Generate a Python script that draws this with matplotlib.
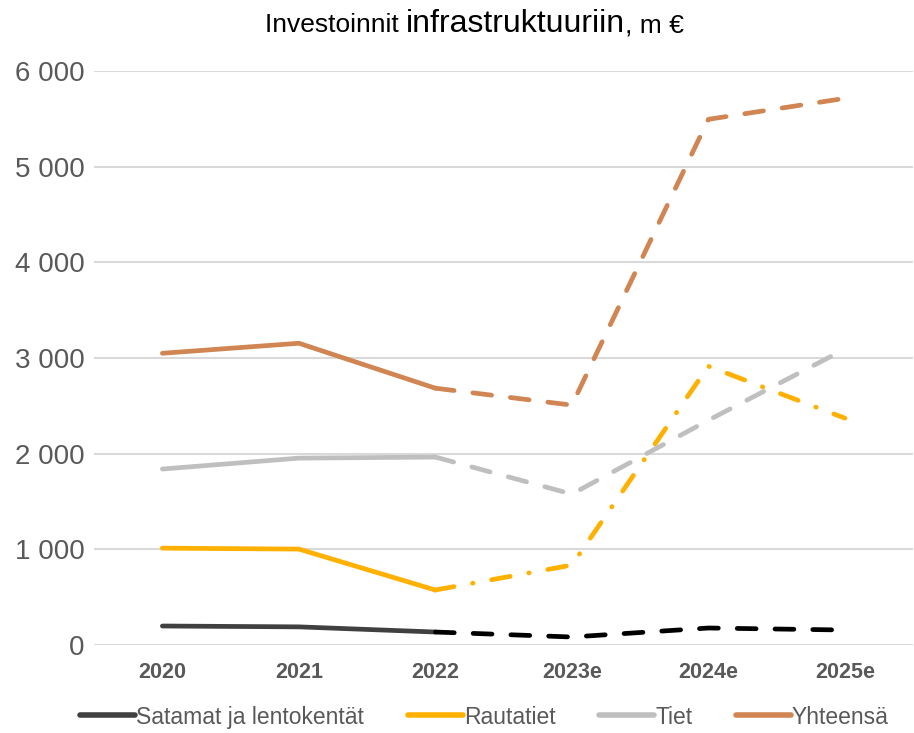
import matplotlib.pyplot as plt
from matplotlib.lines import Line2D
from matplotlib.ticker import FuncFormatter

plt.rcParams["font.family"] = ["Liberation Sans", "DejaVu Sans"]

years = ["2020", "2021", "2022", "2023e", "2024e", "2025e"]
satamat = [199, 190, 136, 84, 178, 157]
rautatiet = [1013, 1003, 575, 836, 2915, 2372]
tiet = [1840, 1954, 1965, 1578, 2350, 3093]
yhteensa = [3050, 3155, 2685, 2508, 5496, 5715]

series = [
    ("Satamat ja lentokentät", satamat, "#404040", "#000000", (0, (4, 4))),
    ("Rautatiet", rautatiet, "#FFB000", "#FFB000", (0, (4, 4, 0.1, 4))),
    ("Tiet", tiet, "#BFBFBF", "#BFBFBF", (0, (4, 4))),
    ("Yhteensä", yhteensa, "#D08552", "#D08552", (0, (4, 4))),
]

fig = plt.figure(figsize=(9.14, 7.33), dpi=100)
ax = fig.add_axes([0.103, 0.12, 0.896, 0.783])

x = list(range(len(years)))
handles = []
for name, vals, col, dcol, ls in series[::-1]:
    ax.plot(x[:3], vals[:3], color=col, lw=3.4, solid_capstyle="round",
            solid_joinstyle="round", zorder=3)
    ax.plot(x[2:], vals[2:], color=dcol, lw=3.4, linestyle=ls,
            dash_capstyle="round", dash_joinstyle="round", zorder=3)
for name, vals, col, dcol, ls in series:
    handles.append(Line2D([], [], color=col, lw=4, solid_capstyle="round", label=name))

ax.set_xlim(-0.5, 5.5)
ax.set_ylim(0, 6000)
ax.set_yticks(range(0, 6001, 1000))
ax.yaxis.set_major_formatter(FuncFormatter(lambda v, p: f"{int(v):,}".replace(",", " ")))
ax.set_xticks(x)
ax.set_xticklabels(years, fontweight="bold")
ax.tick_params(axis="y", length=0, labelsize=20, labelcolor="#595959", pad=7)
ax.tick_params(axis="x", length=0, labelsize=15.5, labelcolor="#595959", pad=12)
ax.grid(axis="y", color="#D9D9D9", lw=1.5, zorder=0)
for s in ax.spines.values():
    s.set_visible(False)

# title with mixed font sizes, pieces placed one after another
y_t = (733 - 32) / 733
renderer = fig.canvas.get_renderer()
x_px = 265
for txt, size in [("Investoinnit ", 19), ("infrastruktuuriin", 23), (", m €", 19)]:
    t = fig.text(x_px / 914, y_t, txt, fontsize=size, va="baseline", color="#000000")
    x_px = t.get_window_extent(renderer).x1

fig.legend(handles=handles, loc="lower center", bbox_to_anchor=(0.53, -0.022), ncol=4,
           frameon=False, fontsize=16.5, handlelength=2.4, handletextpad=0.05,
           columnspacing=1.9, labelcolor="#595959")

fig.savefig("out.png", dpi=100)
